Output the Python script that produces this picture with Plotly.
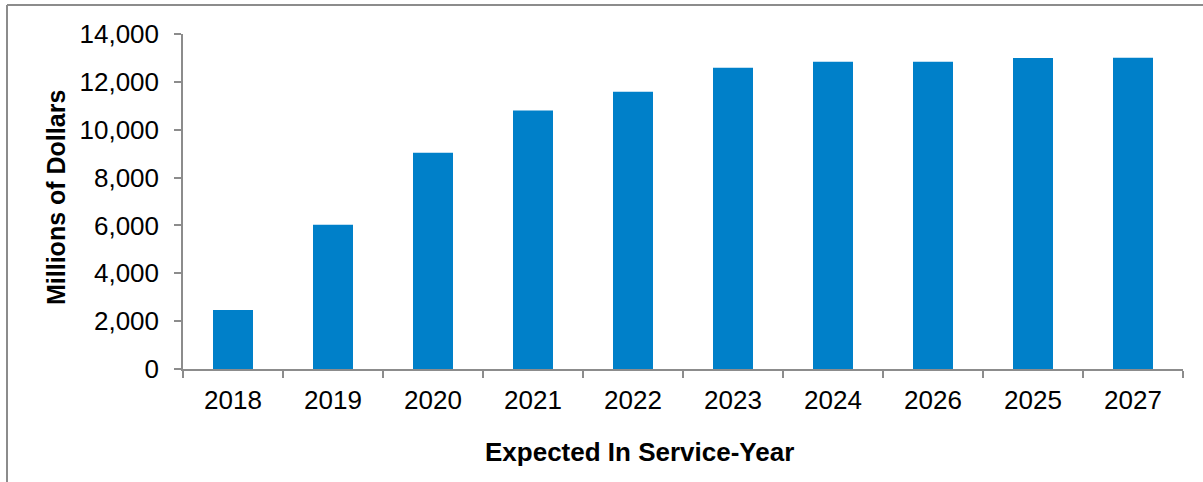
import plotly.graph_objects as go

years = ["2018", "2019", "2020", "2021", "2022", "2023", "2024", "2026", "2025", "2027"]
values = [2470, 6030, 9040, 10800, 11590, 12590, 12840, 12840, 13000, 13010]

L, R, T, B = 183, 20, 34, 113
W, H = 1203, 482
pw = W - L - R
ph = H - T - B

def px(x):
    return (x - L) / pw

def py(y):
    return (H - B - y) / ph

fig = go.Figure()
fig.add_trace(go.Bar(x=years, y=values, marker=dict(color="#0080C9", line=dict(width=0))))

axis_col = "#8c8c8c"
fig.update_layout(
    width=W, height=H,
    margin=dict(l=L, r=R, t=T, b=B),
    paper_bgcolor="white", plot_bgcolor="white",
    bargap=0.6,
    showlegend=False,
    font=dict(family="Liberation Sans, Arial, sans-serif", color="black"),
    xaxis=dict(type="category", tickson="boundaries", ticks="outside", ticklen=7,
               tickcolor=axis_col, tickwidth=1.5, showline=True, linecolor=axis_col,
               linewidth=1.5, showgrid=False, tickfont=dict(size=26), ticklabelstandoff=7),
    yaxis=dict(range=[0, 14000], dtick=2000, tickformat=",", ticks="outside", ticklen=7,
               tickcolor=axis_col, tickwidth=1.5, showline=True, linecolor=axis_col,
               linewidth=1.5, showgrid=False, zeroline=False, tickfont=dict(size=26),
               ticklabelstandoff=10),
    shapes=[
        dict(type="line", xref="paper", yref="paper", x0=px(7), x1=px(1205), y0=py(5), y1=py(5),
             line=dict(color=axis_col, width=2)),
        dict(type="line", xref="paper", yref="paper", x0=px(7), x1=px(7), y0=py(5), y1=py(484),
             line=dict(color=axis_col, width=2)),
    ],
    annotations=[
        dict(text="<b>Expected In Service-Year</b>", xref="paper", yref="paper",
             x=px(639), y=py(452), showarrow=False, font=dict(size=26),
             xanchor="center", yanchor="middle"),
        dict(text="<b>Millions of Dollars</b>", xref="paper", yref="paper",
             x=px(56), y=py(198), showarrow=False, font=dict(size=25), textangle=-90,
             xanchor="center", yanchor="middle"),
    ],
)

fig.write_html("out.html")
